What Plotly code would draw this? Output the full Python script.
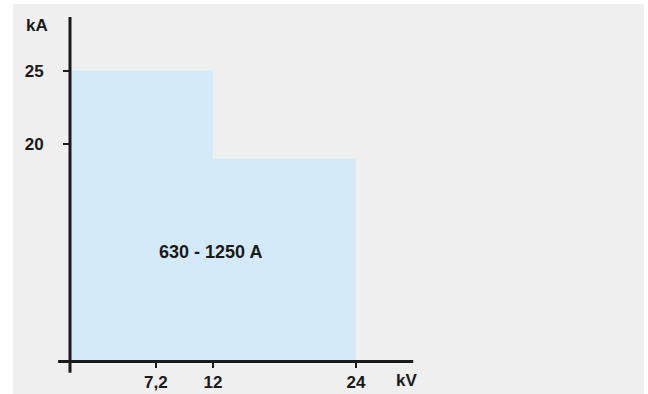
import plotly.graph_objects as go

# Rated voltage break points (kV) and short-circuit current levels (kA)
kv_breaks = [0, 12, 24]
ka_levels = [25, 19]
ka_floor = 5.16

x_ticks = [7.2, 12, 24]
x_tick_text = ["7,2", "12", "24"]
y_ticks = [20, 25]
y_tick_text = ["20", "25"]

current_label = "630 - 1250 A"

ink = "#1a1a1a"
panel = "#eeefee"
area = "#d4eaf8"
font_family = "Liberation Sans, Arial, Helvetica, sans-serif"

# Stepped envelope: x0..x1 at level 0, x1..x2 at level 1
poly_x = [kv_breaks[0], kv_breaks[0], kv_breaks[1], kv_breaks[1], kv_breaks[2], kv_breaks[2], kv_breaks[0]]
poly_y = [ka_floor, ka_levels[0], ka_levels[0], ka_levels[1], ka_levels[1], ka_floor, ka_floor]

fig = go.Figure()
fig.add_trace(go.Scatter(
    x=poly_x, y=poly_y, mode="lines", fill="toself",
    fillcolor=area, line=dict(width=0, color=area),
    hoverinfo="skip", showlegend=False,
))

W, H = 648, 394
ml, mr, mt, mb = 13, 4, 4, 0
px_per_kv = 143 / 12.0
px_per_ka = 73.3 / 5.0
x0_px = 70 - ml
x_min = -x0_px / px_per_kv
x_max = x_min + (W - ml - mr) / px_per_kv
y25_px = 70.7 - mt
y_max = 25 + y25_px / px_per_ka
y_min = y_max - (H - mt - mb) / px_per_ka

axis_font = dict(family=font_family, size=17, color=ink, weight="bold")

fig.update_layout(
    width=W, height=H,
    margin=dict(l=ml, r=mr, t=mt, b=mb),
    paper_bgcolor="white",
    plot_bgcolor=panel,
    hovermode=False,
    xaxis=dict(
        range=[x_min, x_max], showgrid=False, zeroline=False, showline=False,
        tickmode="array", tickvals=x_ticks, ticktext=x_tick_text,
        ticks="outside", ticklen=5, tickwidth=2, tickcolor=ink,
        tickfont=axis_font, anchor="free",
        position=(H - mb - 361.7) / (H - mt - mb),
        ticklabelstandoff=0,
    ),
    yaxis=dict(
        range=[y_min, y_max], showgrid=False, zeroline=False, showline=False,
        tickmode="array", tickvals=y_ticks, ticktext=y_tick_text,
        ticks="outside", ticklen=7, tickwidth=2, tickcolor=ink,
        tickfont=axis_font, anchor="free",
        position=(70 - ml) / (W - ml - mr),
        ticklabelstandoff=16,
    ),
)

# Axis lines
fig.add_shape(type="line", xref="x", yref="y", x0=-1.0, x1=28.8, y0=ka_floor, y1=ka_floor,
              line=dict(color=ink, width=3))
fig.add_shape(type="line", xref="x", yref="y", x0=0, x1=0, y0=4.39, y1=28.66,
              line=dict(color=ink, width=3))

# Axis unit labels and region label
fig.add_annotation(x=-2.73, y=28.05, xref="x", yref="y", text="kA", showarrow=False,
                   font=axis_font)
fig.add_annotation(x=28.2, y=ka_floor - 1.3, xref="x", yref="y", text="kV", showarrow=False,
                   font=axis_font)
fig.add_annotation(x=11.8, y=12.66, xref="x", yref="y", text=current_label, showarrow=False,
                   font=dict(family=font_family, size=18, color=ink, weight="bold"))

fig.write_html("out.html", config={"displayModeBar": False})
